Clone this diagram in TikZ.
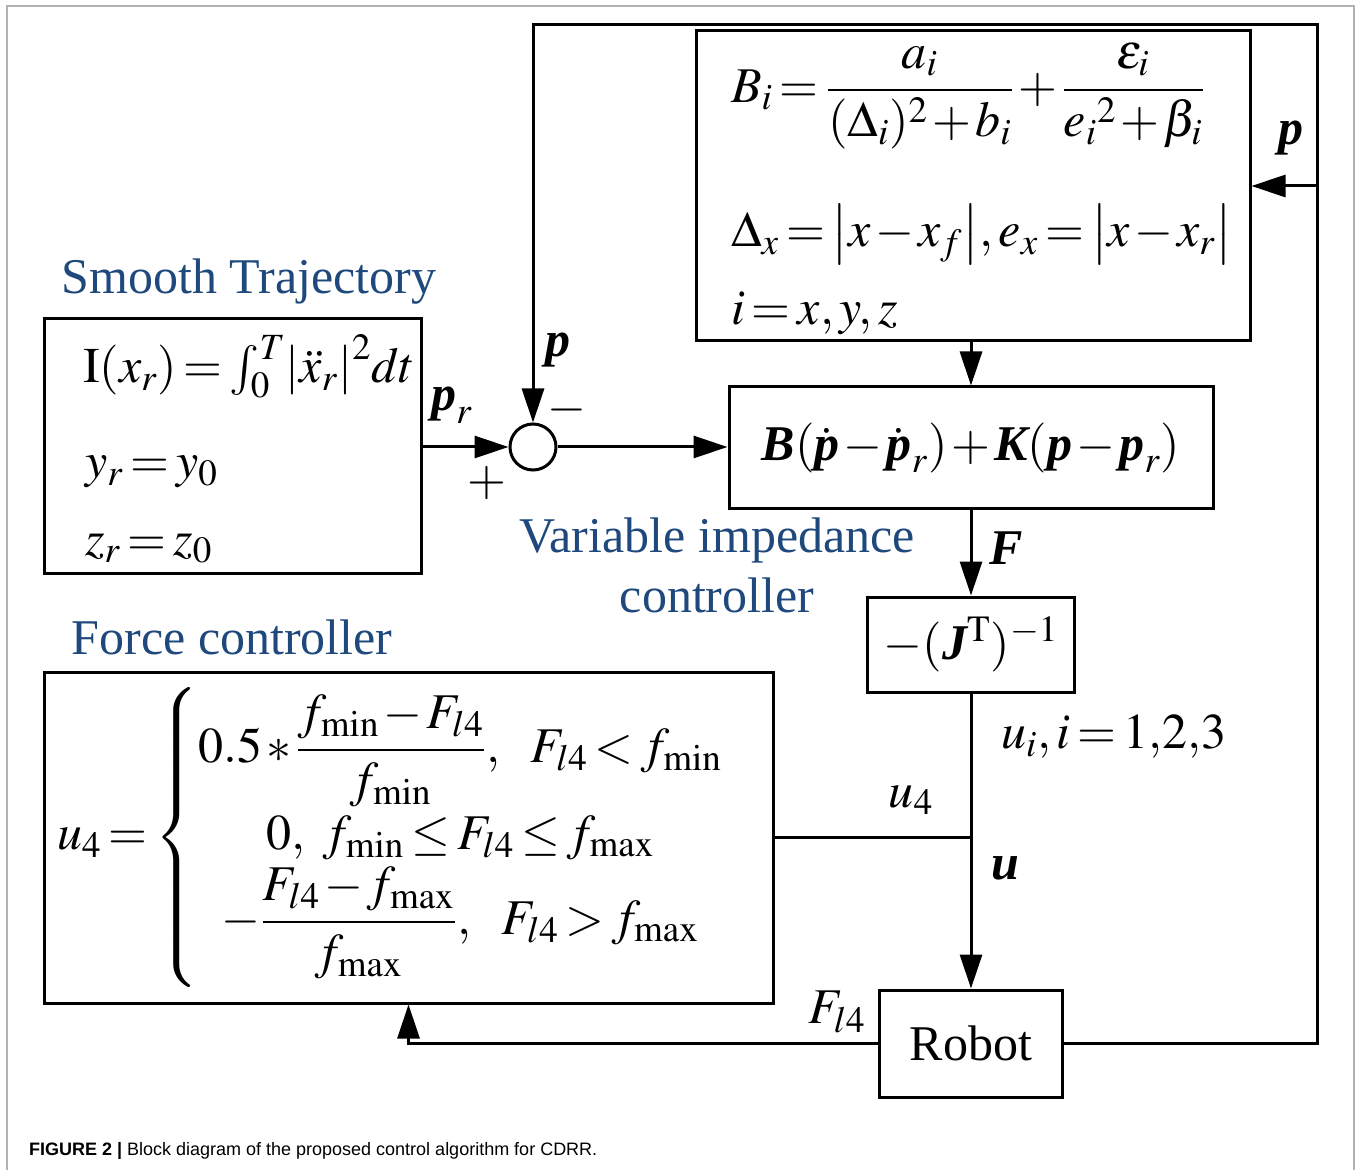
\documentclass[tikz,border=0pt]{standalone}
\usepackage{amsmath}
\usepackage{mathptmx}
\usepackage{fontspec}
\setmainfont{Liberation Serif}
\setsansfont{Liberation Sans}
\usetikzlibrary{arrows.meta}
\definecolor{titleblue}{RGB}{31,73,125}
\newcommand{\bv}[1]{\text{\bfseries\itshape #1}}
\thickmuskip=2.5mu plus 1mu
\medmuskip=1.5mu plus 1mu
\tikzset{
  block/.style={draw, line width=1.5pt, inner sep=0pt},
  wire/.style={line width=1.5pt},
  big/.style={font=\fontsize{25}{30}\selectfont},
  title/.style={big, text=titleblue},
}
\begin{document}
\begin{tikzpicture}[x=0.5pt,y=-0.5pt,>={Triangle[length=17pt,width=11pt]},
    line join=miter]
  \useasboundingbox (0,0) rectangle (1359,1170);
  % Frame of the figure panel.
  \draw[gray!60, line width=1pt] (7,1170) -- (7,6) -- (1354,6) -- (1354,1170);
  % Blocks.
  \node[block, minimum width=188.5pt, minimum height=127pt] (traj) at (232.5,446) {};
  \node[block, minimum width=277pt, minimum height=155pt] (gain) at (973,186) {};
  \node[block, big, minimum width=242pt, minimum height=61pt] (imp) at (971,448)
    {$\bv{B}(\dot{\bv{p}}-\dot{\bv{p}}_r)+\bv{K}(\bv{p}-\bv{p}_r)$};
  \node[block, big, minimum width=103.5pt, minimum height=47.5pt] (jac) at (971,644.5)
    {$-(\bv{J}^{\mathrm{T}})^{-1}$};
  \node[block, minimum width=364.5pt, minimum height=165.5pt] (force) at (408.5,837.5) {};
  \node[block, big, minimum width=91.5pt, minimum height=53.5pt] (robot) at (971,1043.5) {Robot};
  \node[circle, draw, line width=1.5pt, minimum size=23pt, inner sep=0pt] (sum) at (533,447) {};
  % Titles in blue.
  \node[title] (trajT) at (249,282) {Smooth Trajectory};
  \node[title] (forceT) at (232,637) {Force controller};
  \node[title, align=center] (impT) at (717,565) {Variable impedance\\controller};
  % Contents of the blocks.
  \node[big, anchor=base west] (trajA) at (76,383)
    {$\mathrm{I}(x_r)=\int_0^T\!\left|\ddot{x}_r\right|^2\!dt$};
  \node[big, anchor=base west] (trajB) at (78,478) {$y_r=y_0$};
  \node[big, anchor=base west] (trajC) at (78,555) {$z_r=z_0$};
  \node[big, anchor=west] (gainA) at (724,96)
    {$B_i=\dfrac{a_i}{(\Delta_i)^2+b_i}+\dfrac{\varepsilon_i}{{e_i}^2+\beta_i}$};
  \node[big, anchor=base west] (gainB) at (724,247)
    {$\Delta_x=\bigl|x-x_f\bigr|,e_x=\bigl|x-x_r\bigr|$};
  \node[big, anchor=base west] (gainC) at (724,325) {$i=x,y,z$};
  \node[big, anchor=west] (law) at (50,837)
    {$u_4=\left\{\begin{array}{@{}c@{}}
      0.5*\dfrac{f_{\mathrm{min}}-F_{l4}}{f_{\mathrm{min}}},\ \ F_{l4}<f_{\mathrm{min}}\\[2pt]
      0,\ f_{\mathrm{min}}\le F_{l4}\le f_{\mathrm{max}}\\
      -\dfrac{F_{l4}-f_{\mathrm{max}}}{f_{\mathrm{max}}},\ \ F_{l4}>f_{\mathrm{max}}
    \end{array}\right.$};
  % Connectors.
  \coordinate (loop) at (1317,25);
  \draw[wire,->] (traj.east |- sum) -- (sum.west);
  \draw[wire,->] (sum.east) -- (sum -| imp.west);
  \draw[wire,->] (imp.north |- gain.south) -- (imp.north);
  \draw[wire,->] (imp.south) -- (jac.north);
  \draw[wire,->] (jac.south) -- (robot.north);
  \draw[wire] (force.east) -- (force.east -| jac.south);
  \draw[wire,->] (robot.east) -| (loop) -| (sum.north);
  \draw[wire,->] (gain.east -| loop) -- (gain.east);
  \draw[wire,->] (robot.west) -| (force.south);
  % Signal labels.
  \node[big] (lpr) at (452,405) {$\bv{p}_r$};
  \node[big] (lplus) at (487,483) {$+$};
  \node[big] (lminus) at (567,410) {$-$};
  \node[big] (lp1) at (558,350) {$\bv{p}$};
  \node[big] (lp2) at (1291,138) {$\bv{p}$};
  \node[big] (lF) at (1006,548) {$\bv{F}$};
  \node[big, anchor=west] (lui) at (994,737) {$u_i,i=1{,}2{,}3$};
  \node[big] (lu4) at (911,800) {$u_4$};
  \node[big] (lu) at (1005,868) {$\bv{u}$};
  \node[big] (lFl) at (837,1012) {$F_{l4}$};
  % Caption.
  \node[anchor=base west, font=\sffamily\fontsize{9}{11}\selectfont] (cap) at (22,1155)
    {\textbf{FIGURE 2 |} Block diagram of the proposed control algorithm for CDRR.};
\end{tikzpicture}
\end{document}
